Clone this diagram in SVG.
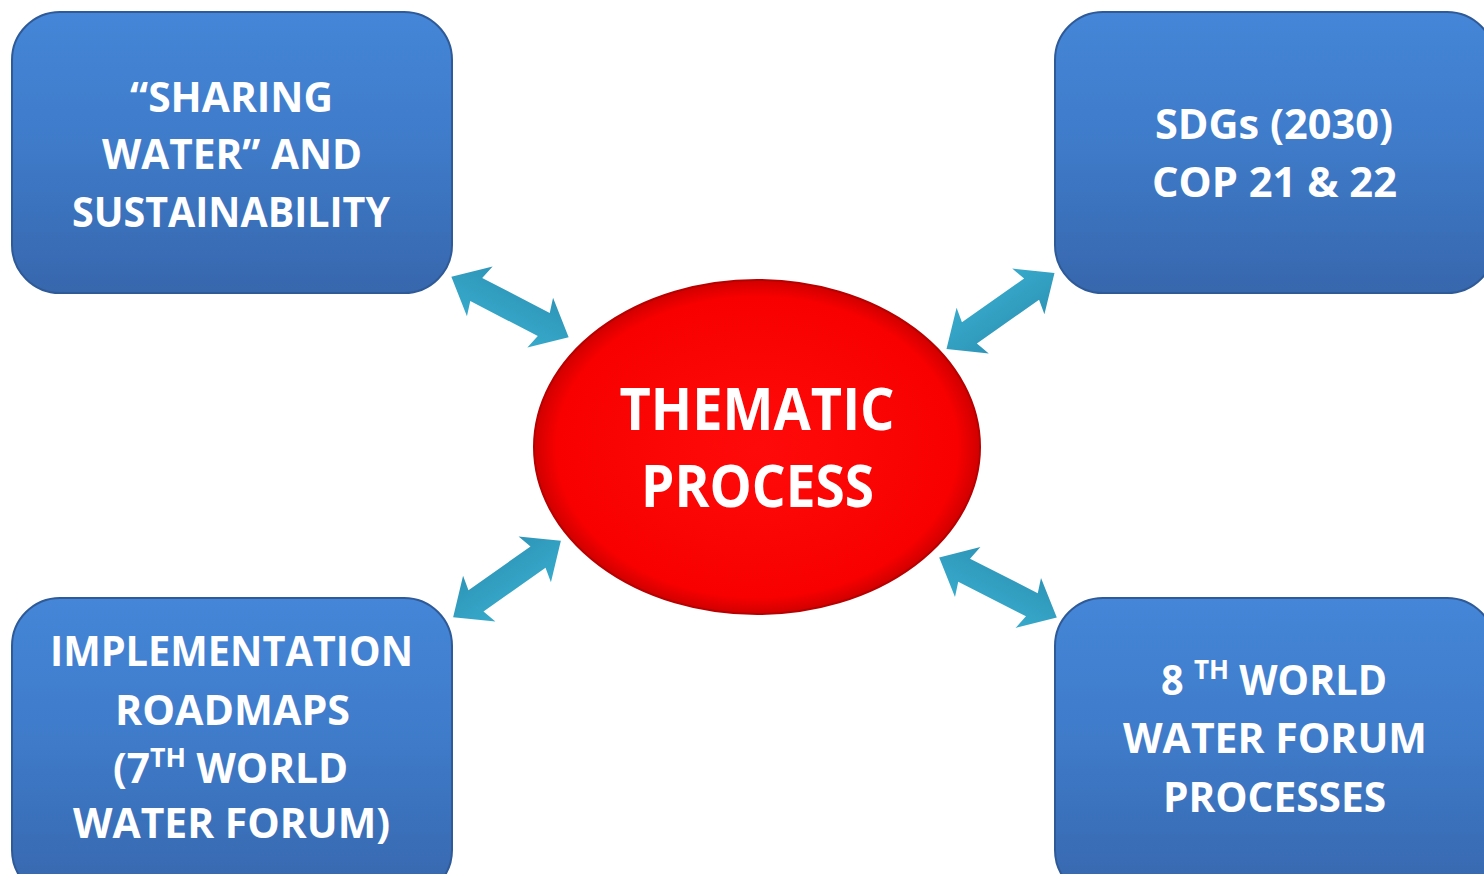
<svg xmlns="http://www.w3.org/2000/svg" width="1484" height="874" viewBox="0 0 1484 874">
<defs>
<linearGradient id="boxg" x1="0" y1="0" x2="0" y2="1">
<stop offset="0" stop-color="#4586D8"/>
<stop offset="0.5" stop-color="#3E7AC8"/>
<stop offset="1" stop-color="#3767AD"/>
</linearGradient>
<radialGradient id="ellg" cx="0.5" cy="0.5" r="0.5">
<stop offset="0" stop-color="#FF0A0A"/>
<stop offset="0.9" stop-color="#F80000"/>
<stop offset="1" stop-color="#D00000"/>
</radialGradient>
<linearGradient id="arrg" x1="0" y1="0" x2="0" y2="1">
<stop offset="0" stop-color="#2E95B8"/>
<stop offset="1" stop-color="#37AACB"/>
</linearGradient>
<path id="arr" d="M-66,0 L-34,-28 L-38,-13 L38,-13 L34,-28 L66,0 L34,28 L38,13 L-38,13 L-34,28 Z"/>
</defs>
<style>
.box{fill:url(#boxg);stroke:#2E5A98;stroke-width:2}
.t{font-family:"Open Sans","Noto Sans","Liberation Sans",sans-serif;font-weight:bold;fill:#FFFFFF;font-size:41px}
.c{font-size:59px}
.arrow{fill:url(#arrg)}
</style>
<rect width="1484" height="874" fill="#FFFFFF"/>
<g id="connectors">
<use href="#arr" class="arrow" transform="translate(510,307) rotate(27.3)"/>
<use href="#arr" class="arrow" transform="translate(1000.5,311) rotate(144.9)"/>
<use href="#arr" class="arrow" transform="translate(507,579) rotate(-35.3)"/>
<use href="#arr" class="arrow" transform="translate(998,587.5) rotate(27)"/>
</g>
<g id="center">
<ellipse cx="757" cy="447" rx="223" ry="167" fill="url(#ellg)" stroke="#B80000" stroke-width="2"/>
<text class="t c" x="757" y="430" text-anchor="middle" textLength="275" lengthAdjust="spacingAndGlyphs">THEMATIC</text>
<text class="t c" x="757.5" y="507" text-anchor="middle" textLength="233" lengthAdjust="spacingAndGlyphs">PROCESS</text>
</g>
<g id="sharing">
<rect class="box" x="12" y="12" width="440" height="281" rx="48" ry="48"/>
<text class="t" x="231.5" y="112" text-anchor="middle" textLength="203" lengthAdjust="spacingAndGlyphs">“SHARING</text>
<text class="t" x="232" y="169" text-anchor="middle" textLength="260" lengthAdjust="spacingAndGlyphs">WATER” AND</text>
<text class="t" x="231" y="227" text-anchor="middle" textLength="318" lengthAdjust="spacingAndGlyphs">SUSTAINABILITY</text>
</g>
<g id="sdgs">
<rect class="box" x="1055" y="12" width="440" height="281" rx="48" ry="48"/>
<text class="t" x="1274" y="139" text-anchor="middle" textLength="238" lengthAdjust="spacingAndGlyphs">SDGs (2030)</text>
<text class="t" x="1274.5" y="197" text-anchor="middle" textLength="245" lengthAdjust="spacingAndGlyphs">COP 21 &amp; 22</text>
</g>
<g id="implementation">
<rect class="box" x="12" y="598" width="440" height="300" rx="48" ry="48"/>
<text class="t" x="231.5" y="666" text-anchor="middle" textLength="363" lengthAdjust="spacingAndGlyphs">IMPLEMENTATION</text>
<text class="t" x="232.5" y="725" text-anchor="middle" textLength="235" lengthAdjust="spacingAndGlyphs">ROADMAPS</text>
<text class="t" x="113" y="783" textLength="235" lengthAdjust="spacingAndGlyphs">(7<tspan font-size="27" dy="-16">TH</tspan><tspan dy="16"> WORLD</tspan></text>
<text class="t" x="231.5" y="838" text-anchor="middle" textLength="317" lengthAdjust="spacingAndGlyphs">WATER FORUM)</text>
</g>
<g id="forum8">
<rect class="box" x="1055" y="598" width="440" height="300" rx="48" ry="48"/>
<text class="t" x="1161" y="695" textLength="226" lengthAdjust="spacingAndGlyphs">8 <tspan font-size="27" dy="-16">TH</tspan><tspan dy="16"> WORLD</tspan></text>
<text class="t" x="1275" y="753" text-anchor="middle" textLength="304" lengthAdjust="spacingAndGlyphs">WATER FORUM</text>
<text class="t" x="1274.5" y="812" text-anchor="middle" textLength="223" lengthAdjust="spacingAndGlyphs">PROCESSES</text>
</g>
</svg>
